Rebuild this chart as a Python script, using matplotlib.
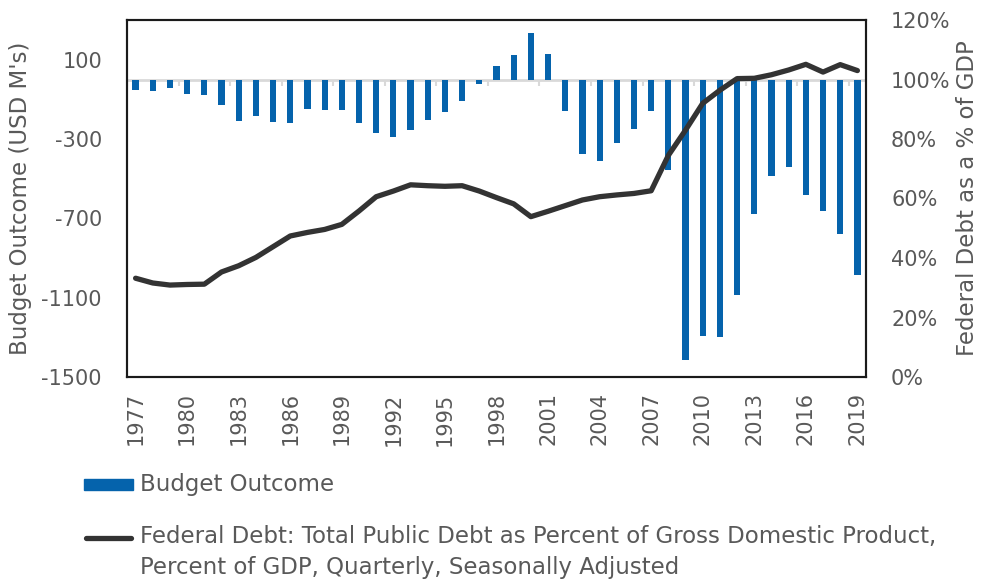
import numpy as np
import matplotlib.pyplot as plt
from matplotlib.lines import Line2D
from matplotlib.patches import Rectangle
from matplotlib.ticker import PercentFormatter

years = list(range(1977, 2020))
budget = [-53.7, -59.2, -40.7, -73.8, -79.0, -128.0, -207.8, -185.4, -212.3, -221.2,
          -149.7, -155.2, -152.6, -221.0, -269.2, -290.3, -255.1, -203.2, -164.0, -107.4,
          -21.9, 69.3, 125.6, 236.2, 128.2, -157.8, -377.6, -412.7, -318.3, -248.2,
          -160.7, -458.6, -1412.7, -1294.4, -1299.6, -1087.0, -679.5, -484.6, -442.0, -584.7,
          -665.4, -779.1, -984.0]
debt = [33.2, 31.6, 30.9, 31.1, 31.2, 35.3, 37.4, 40.2, 43.8, 47.4,
        48.6, 49.6, 51.3, 55.8, 60.6, 62.5, 64.6, 64.3, 64.1, 64.3,
        62.5, 60.3, 58.2, 53.9, 55.7, 57.6, 59.5, 60.6, 61.2, 61.7,
        62.6, 74.5, 83.0, 92.0, 96.4, 100.3, 100.4, 101.6, 103.2, 105.1,
        102.5, 105.0, 103.0]

bar_label = 'Budget Outcome'
line_label = ('Federal Debt: Total Public Debt as Percent of Gross Domestic Product,\n'
              'Percent of GDP, Quarterly, Seasonally Adjusted')

plt.rcParams['font.family'] = ['DejaVu Sans']
plt.rcParams['axes.unicode_minus'] = False
grey = '#595959'
blue = '#0563AC'
dark = '#333333'

x = np.arange(len(years))

fig = plt.figure(figsize=(9.81, 5.81), dpi=100)
ax = fig.add_axes([127/981, 1 - 377/581, (866 - 127)/981, (377 - 20)/581])

ax.bar(x, budget, width=0.36, color=blue, zorder=3)
ax.axhline(0, color='#d9d9d9', lw=2, zorder=2)
# small category ticks along the zero line
ax.vlines(np.arange(-0.5, len(years), 3), -32, 0, color='#d9d9d9', lw=1.5, zorder=2)

ax.set_xlim(-0.5, len(years) - 0.5)
ax.set_ylim(-1500, 300)
ax.set_yticks([-1500, -1100, -700, -300, 100])
ax.set_xticks(x[::3])
ax.set_xticklabels([str(y) for y in years[::3]], rotation=90)
ax.tick_params(axis='x', length=0, pad=11, labelsize=15, labelcolor=grey)
ax.tick_params(axis='y', length=0, pad=18, labelsize=15, labelcolor=grey)
ax.set_ylabel('Budget Outcome (USD M\'s)', fontsize=16.5, color=grey, labelpad=7)

ax2 = ax.twinx()
ax2.plot(x, debt, color=dark, lw=3.8, solid_capstyle='round', solid_joinstyle='round', zorder=4)
ax2.set_ylim(0, 120)
ax2.set_yticks(np.arange(0, 121, 20))
ax2.yaxis.set_major_formatter(PercentFormatter(decimals=0))
ax2.tick_params(axis='y', length=0, pad=18, labelsize=15, labelcolor=grey)
ax2.set_ylabel('Federal Debt as a % of GDP', fontsize=16.5, color=grey, labelpad=4)

for a in (ax, ax2):
    for s in a.spines.values():
        s.set_color('#1a1a1a')
        s.set_linewidth(1.5)

# legend below the chart
fig.add_artist(Rectangle((84/981, 1 - 490/581), 49/981, 11/581,
                         transform=fig.transFigure, color=blue))
fig.text(140/981, 1 - 484/581, bar_label, fontsize=16.5, color=grey, va='center')
fig.add_artist(Line2D([86/981, 131/981], [1 - 538/581, 1 - 538/581],
                      transform=fig.transFigure, color=dark, lw=3.8,
                      solid_capstyle='round'))
fig.text(140/981, 1 - 525/581, line_label, fontsize=16.5, color=grey, va='top',
         linespacing=1.45)

fig.savefig('out.png', dpi=100)
